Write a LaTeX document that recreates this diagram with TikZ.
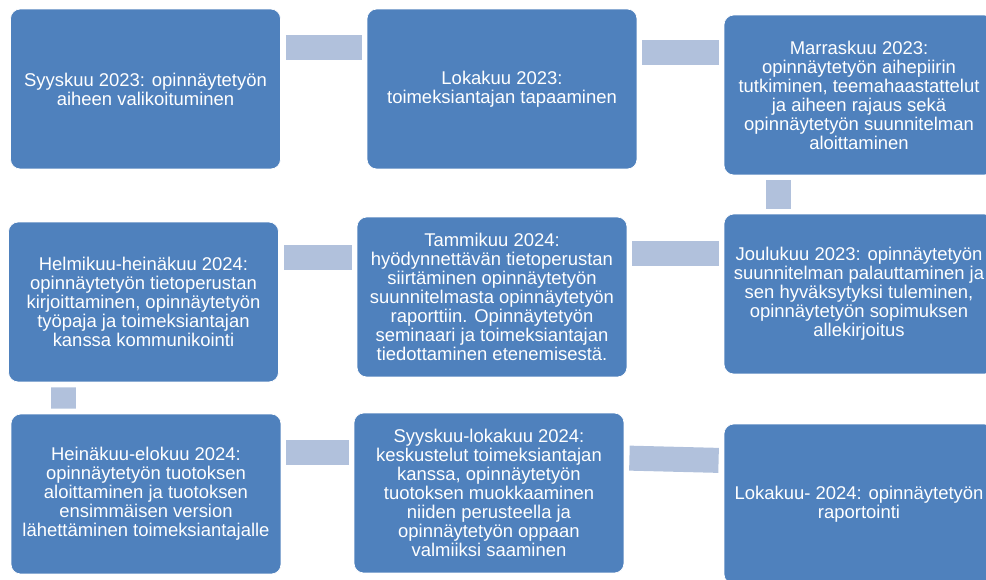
\documentclass[tikz,border=0pt]{standalone}
\usepackage{fontspec}
\setmainfont{Liberation Sans}
\usetikzlibrary{calc}
\definecolor{boxblue}{RGB}{79,129,189}
\definecolor{linkblue}{RGB}{177,193,220}
\tikzset{
    phase/.style={rectangle, rounded corners=5.5pt, fill=boxblue, draw=white, line width=0.4pt,
        minimum width=5.4cm, minimum height=3.2cm, inner sep=2pt, align=center,
        text=white, font=\fontsize{10.5}{10.8}\selectfont},
    link/.style={draw=linkblue, line width=0.5cm, line cap=butt, shorten <=2.9pt, shorten >=2.9pt}
}
\begin{document}
\begin{tikzpicture}[x=0.02cm, y=-0.02cm]
    \useasboundingbox (0,0) rectangle (986,579);
    \clip (0,0) rectangle (986,579);
    % the phases, row by row
    \node[phase] (b1) at (145.5,89) {Syyskuu 2023: opinnäytetyön\\aiheen valikoituminen};
    \node[phase] (b2) at (502,89) {Lokakuu 2023:\\toimeksiantajan tapaaminen};
    \node[phase] (b3) at (859,95) {Marraskuu 2023:\\opinnäytetyön aihepiirin\\tutkiminen, teemahaastattelut\\ja aiheen rajaus sekä\\opinnäytetyön suunnitelman\\aloittaminen};
    \node[phase] (b4) at (859,294) {Joulukuu 2023: opinnäytetyön\\suunnitelman palauttaminen ja\\sen hyväksytyksi tuleminen,\\opinnäytetyön sopimuksen\\allekirjoitus};
    \node[phase] (b5) at (492,297) {Tammikuu 2024:\\hyödynnettävän tietoperustan\\siirtäminen opinnäytetyön\\suunnitelmasta opinnäytetyön\\raporttiin. Opinnäytetyön\\seminaari ja toimeksiantajan\\tiedottaminen etenemisestä.};
    \node[phase] (b6) at (143.5,302) {Helmikuu-heinäkuu 2024:\\opinnäytetyön tietoperustan\\kirjoittaminen, opinnäytetyön\\työpaja ja toimeksiantajan\\kanssa kommunikointi};
    \node[phase] (b7) at (146,494) {Heinäkuu-elokuu 2024:\\opinnäytetyön tuotoksen\\aloittaminen ja tuotoksen\\ensimmäisen version\\lähettäminen toimeksiantajalle};
    \node[phase] (b8) at (489,493) {Syyskuu-lokakuu 2024:\\keskustelut toimeksiantajan\\kanssa, opinnäytetyön\\tuotoksen muokkaaminen\\niiden perusteella ja\\opinnäytetyön oppaan\\valmiiksi saaminen};
    \node[phase] (b9) at (859,504) {Lokakuu- 2024: opinnäytetyön\\raportointi};
    % the links between them
    \draw[link] ($(b1.east)+(0,-41.5)$) -- ($(b2.west)+(0,-41.5)$);
    \draw[link] ($(b2.east)+(0,-37)$) -- ($(b3.west)+(0,-43)$);
    \draw[link] ($(b3.south)+(-80.5,0)$) -- ($(b4.north)+(-80.5,0)$);
    \draw[link] ($(b4.west)+(0,-40.5)$) -- ($(b5.east)+(0,-43.5)$);
    \draw[link] ($(b5.west)+(0,-40)$) -- ($(b6.east)+(0,-45)$);
    \draw[link] ($(b6.south)+(-80,0)$) -- ($(b7.north)+(-82.5,0)$);
    \draw[link] ($(b7.east)+(0,-42)$) -- ($(b8.west)+(0,-41)$);
    \draw[link] ($(b8.east)+(0,-35)$) -- ($(b9.west)+(0,-43.5)$);
\end{tikzpicture}
\end{document}
